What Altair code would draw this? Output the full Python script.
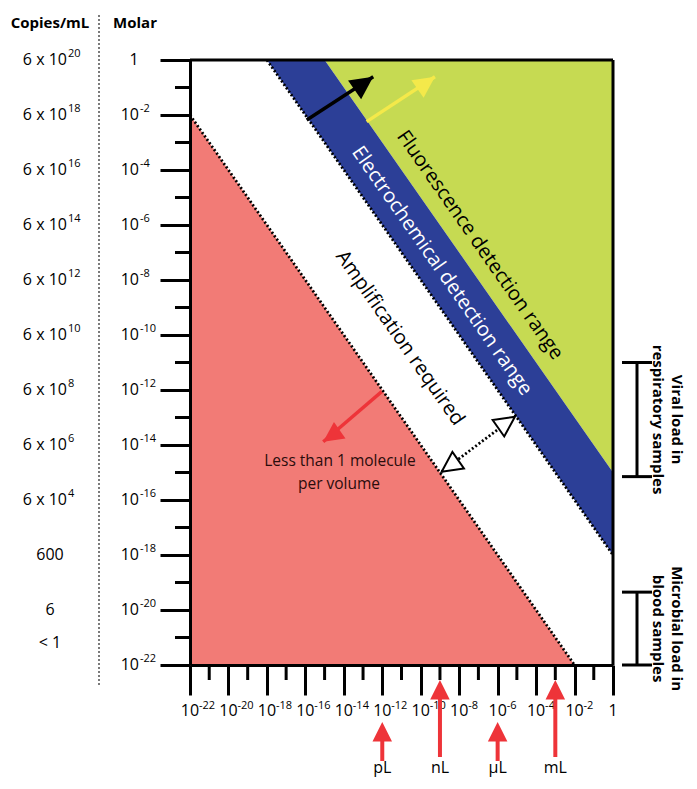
import altair as alt
import pandas as pd

FONT = "Open Sans"
RED_FILL = "#F27B76"
BLUE = "#2C3F97"
GREEN = "#C6DA52"
YELLOW = "#F4E94A"
ARROW_RED = "#EE3439"

# ---------------- data ----------------
x_major_exp = list(range(-22, 1, 2))
x_minor_exp = list(range(-21, 0, 2))
y_major_exp = list(range(-22, 1, 2))
y_minor_exp = list(range(-21, 0, 2))

x_label_exp = list(range(-22, -1, 2))
y_label_exp = list(range(-22, -1, 2))

copies_base = ["6 x 10"] * 9 + ["600", "6", "< 1"]
copies_sup = ["20", "18", "16", "14", "12", "10", "8", "6", "4", "", "", ""]
copies_molar_exp = [0, -2, -4, -6, -8, -10, -12, -14, -16, -18, -20, -21.2]

# regions: log10 volume, log10 molar (upper), log10 molar (lower)
green_v, green_top, green_bot = [-15, 0], [0, 0], [0, -15]
blue_v, blue_top, blue_bot = [-18, -15, 0], [0, 0, -15], [0, -3, -18]
red_v, red_top, red_bot = [-22, -2], [-2, -22], [-22, -22]

# dotted boundaries
dot_seg = ["a", "a", "b", "b"]
dot_v = [-22, -2, -18, 0]
dot_m = [-2, -22, 0, -18]

# diagonal arrows
arr_name = ["black", "yellow", "red"]
arr_v1 = [-15.93, -12.81, -12.03]
arr_m1 = [-2.18, -2.24, -12.06]
arr_v2 = [-12.47, -9.26, -15.07]
arr_m2 = [-0.61, -0.61, -13.88]
arr_color = ["#000000", YELLOW, ARROW_RED]
arr_angle = [55, 55, 235]
arr_size = [640, 560, 500]

# dotted double arrow (amplification)
amp_v = [-8.91, -5.10]
amp_m = [-14.97, -12.97]
amp_angle = [235, 55]

# rotated labels
rot_text = ["Fluorescence detection range", "Electrochemical detection range", "Amplification required"]
rot_v = [-6.92, -8.90, -11.08]
rot_m = [-6.73, -7.67, -10.11]
rot_color = ["#000000", "#FFFFFF", "#000000"]

# "less than one molecule" label (two lines)
less_text = ["Less than 1 molecule", "per volume"]
less_v = [-14.2, -14.25]
less_m = [-14.58, -15.42]

# volume units
unit_name = ["pL", "nL", "µL", "mL"]
unit_exp = [-12, -9, -6, -3]
unit_long = [False, True, False, True]

# sample brackets (log10 molar)
br_name = [["Viral load in", "respiratory samples"], ["Microbial load in", "blood samples"]]
br_top = [-11.0, -19.35]
br_bot = [-15.15, -22.0]

W, H = 423, 605
HEAD = "M0,0L0.9,1.8L-0.9,1.8Z"

# ---------------- scales ----------------
xs = alt.Scale(type="log", domain=[1e-22, 1], nice=False)
ys = alt.Scale(type="log", domain=[1e-22, 1], nice=False)
xaxis = alt.Axis(values=[10.0 ** e for e in x_major_exp], labels=False, title=None, grid=False,
                 tickSize=30, tickWidth=3, domainWidth=3, domainColor="black", tickColor="black",
                 zindex=1)
yaxis = alt.Axis(values=[10.0 ** e for e in y_major_exp], labels=False, title=None, grid=False,
                 tickSize=30, tickWidth=3, domainWidth=3, domainColor="black", tickColor="black",
                 zindex=1)


def X(f="v"):
    return alt.X(f"{f}:Q", scale=xs, axis=xaxis)


def Y(f="m"):
    return alt.Y(f"{f}:Q", scale=ys, axis=yaxis)


def p10(lst):
    return [10.0 ** e for e in lst]


def region(vs, top, bot, color):
    df = pd.DataFrame({"v": p10(vs), "m": p10(top), "m2": p10(bot)})
    return alt.Chart(df).mark_area(color=color, opacity=1).encode(x=X(), y=Y(), y2=alt.Y2("m2:Q"))


layers = []
layers.append(region(green_v, green_top, green_bot, GREEN))
layers.append(region(blue_v, blue_top, blue_bot, BLUE))
layers.append(region(red_v, red_top, red_bot, RED_FILL))

# frame top/right
frame = pd.DataFrame({"v": [1e-22, 1.0], "m": [1.0, 1.0], "v2": [1.0, 1.0], "m2": [1.0, 1e-22]})
layers.append(alt.Chart(frame).mark_rule(color="black", strokeWidth=3).encode(
    x=X(), y=Y(), x2=alt.X2("v2:Q"), y2=alt.Y2("m2:Q")))

# dotted lines
dots = pd.DataFrame({"seg": dot_seg, "v": p10(dot_v), "m": p10(dot_m)})
layers.append(alt.Chart(dots).mark_line(color="black", strokeWidth=2.8, strokeDash=[2, 2.2]).encode(
    x=X(), y=Y(), detail="seg:N"))

# minor ticks
xminor = pd.DataFrame({"v": p10(x_minor_exp)})
layers.append(alt.Chart(xminor).mark_rule(color="black", strokeWidth=3).encode(
    x=X(), y=alt.value(H), y2=alt.value(H + 15)))
yminor = pd.DataFrame({"m": p10(y_minor_exp)})
layers.append(alt.Chart(yminor).mark_rule(color="black", strokeWidth=3).encode(
    y=Y(), x=alt.value(-15), x2=alt.value(0)))

# diagonal arrows
arr = pd.DataFrame({"n": arr_name, "v": p10(arr_v1), "m": p10(arr_m1), "v2": p10(arr_v2),
                    "m2": p10(arr_m2), "c": arr_color, "a": arr_angle, "s": arr_size})
layers.append(alt.Chart(arr).mark_rule(strokeWidth=3.4).encode(
    x=X(), y=Y(), x2=alt.X2("v2:Q"), y2=alt.Y2("m2:Q"), color=alt.Color("c:N", scale=None)))
layers.append(alt.Chart(arr).mark_point(shape=HEAD, filled=True, opacity=1).encode(
    x=X("v2"), y=Y("m2"), color=alt.Color("c:N", scale=None),
    angle=alt.Angle("a:Q", scale=None), size=alt.Size("s:Q", scale=None)))

# amplification dotted double arrow
amp = pd.DataFrame({"v": p10(amp_v), "m": p10(amp_m), "a": amp_angle})
layers.append(alt.Chart(amp).mark_line(color="black", strokeWidth=2.8, strokeDash=[2, 2.2]).encode(
    x=X(), y=Y()))
layers.append(alt.Chart(amp).mark_point(shape=HEAD, filled=True, fill="white", stroke="black",
                                        strokeWidth=2, opacity=1, size=500).encode(
    x=X(), y=Y(), angle=alt.Angle("a:Q", scale=None)))

# rotated labels
rot = pd.DataFrame({"t": rot_text, "v": p10(rot_v), "m": p10(rot_m), "c": rot_color})
layers.append(alt.Chart(rot).mark_text(angle=55, fontSize=20, font=FONT, align="center",
                                       baseline="middle").encode(
    x=X(), y=Y(), text="t:N", color=alt.Color("c:N", scale=None)))

less = pd.DataFrame({"t": less_text, "v": p10(less_v), "m": p10(less_m)})
layers.append(alt.Chart(less).mark_text(fontSize=15.5, font=FONT, align="center", baseline="middle",
                                        color="#2a0c0c").encode(
    x=X(), y=Y(), text="t:N"))

# x tick labels
xl = pd.DataFrame({"v": p10(x_label_exp), "sup": [str(e) for e in x_label_exp]})
layers.append(alt.Chart(xl).mark_text(text="10", fontSize=16, font=FONT, align="center",
                                      baseline="alphabetic", color="black").encode(
    x=X(), y=alt.value(H + 51)))
layers.append(alt.Chart(xl).mark_text(fontSize=11, font=FONT, align="left", baseline="alphabetic",
                                      dx=9, color="black").encode(
    x=X(), y=alt.value(H + 44), text="sup:N"))
xone = pd.DataFrame({"v": [1.0], "t": ["1"]})
layers.append(alt.Chart(xone).mark_text(fontSize=16, font=FONT, align="center", baseline="alphabetic",
                                        color="black").encode(
    x=X(), y=alt.value(H + 51), text="t:N"))

# y tick labels
yl = pd.DataFrame({"m": p10(y_label_exp), "sup": [str(e) for e in y_label_exp]})
layers.append(alt.Chart(yl).mark_text(text="10", fontSize=16, font=FONT, align="right",
                                      baseline="middle", color="black").encode(
    y=Y(), x=alt.value(-51)))
layers.append(alt.Chart(yl).mark_text(fontSize=11, font=FONT, align="left", baseline="middle",
                                      dy=-6, color="black").encode(
    y=Y(), x=alt.value(-50), text="sup:N"))
yone = pd.DataFrame({"m": [1.0], "t": ["1"]})
layers.append(alt.Chart(yone).mark_text(fontSize=16, font=FONT, align="center", baseline="middle",
                                        color="black").encode(
    y=Y(), x=alt.value(-56), text="t:N"))

# copies/mL column
cp = pd.DataFrame({"b": copies_base, "s": copies_sup, "m": p10(copies_molar_exp),
                   "pow": [s != "" for s in copies_sup]})
layers.append(alt.Chart(cp).transform_filter("datum.pow").mark_text(
    fontSize=16, font=FONT, align="right", baseline="middle", color="black").encode(
    y=Y(), x=alt.value(-123), text="b:N"))
layers.append(alt.Chart(cp).transform_filter("datum.pow").mark_text(
    fontSize=11, font=FONT, align="left", baseline="middle", dy=-6, color="black").encode(
    y=Y(), x=alt.value(-122), text="s:N"))
layers.append(alt.Chart(cp).transform_filter("!datum.pow").mark_text(
    fontSize=16, font=FONT, align="center", baseline="middle", color="black").encode(
    y=Y(), x=alt.value(-140), text="b:N"))

# column titles and separator
titles = pd.DataFrame({"t": ["Copies/mL", "Molar"], "px": [-140, -55]})
layers.append(alt.Chart(titles).mark_text(fontSize=15, font=FONT, fontWeight="bold", align="center",
                                          baseline="alphabetic", color="black").encode(
    x=alt.X("px:Q", scale=None), y=alt.value(-32), text="t:N"))
sep = pd.DataFrame({"k": [0]})
layers.append(alt.Chart(sep).mark_rule(color="#7a7a7a", strokeWidth=2, strokeDash=[2, 2]).encode(
    x=alt.value(-91), y=alt.value(-45), y2=alt.value(625)))

# volume unit arrows
un = pd.DataFrame({"u": unit_name, "v": p10(unit_exp), "long": unit_long})
for is_long, tip, end in [(True, 620, 697), (False, 662, 701)]:
    flt = "datum.long" if is_long else "!datum.long"
    base = alt.Chart(un).transform_filter(flt)
    layers.append(base.mark_rule(color=ARROW_RED, strokeWidth=4).encode(
        x=X(), y=alt.value(tip + 8), y2=alt.value(end)))
    layers.append(base.mark_point(shape=HEAD, filled=True, opacity=1, color=ARROW_RED, size=470).encode(
        x=X(), y=alt.value(tip)))
layers.append(alt.Chart(un).mark_text(fontSize=16, font=FONT, align="center", baseline="alphabetic",
                                      color="black").encode(
    x=X(), y=alt.value(713), text="u:N"))

# sample brackets
br = pd.DataFrame({"m": p10(br_top), "m2": p10(br_bot),
                   "mid": [10 ** ((a + b) / 2) for a, b in zip(br_top, br_bot)],
                   "t": br_name})
layers.append(alt.Chart(br).mark_rule(color="black", strokeWidth=3).encode(
    x=alt.value(447), y=Y(), y2=alt.Y2("m2:Q")))
caps = pd.DataFrame({"m": p10(br_top + br_bot)})
layers.append(alt.Chart(caps).mark_rule(color="black", strokeWidth=3).encode(
    x=alt.value(432), x2=alt.value(462), y=Y()))
layers.append(alt.Chart(br).mark_text(angle=90, fontSize=15, font=FONT, fontWeight="bold",
                                      align="center", baseline="alphabetic", lineHeight=19,
                                      color="black").encode(
    x=alt.value(482), y=Y("mid"), text="t"))

chart = alt.layer(*layers).properties(
    width=W, height=H,
    autosize=alt.AutoSizeParams(type="none"),
    padding={"left": 182, "top": 52, "right": 76, "bottom": 116},
).configure_view(stroke=None)

chart.save("out.html", embed_options={"renderer": "svg", "actions": False})
